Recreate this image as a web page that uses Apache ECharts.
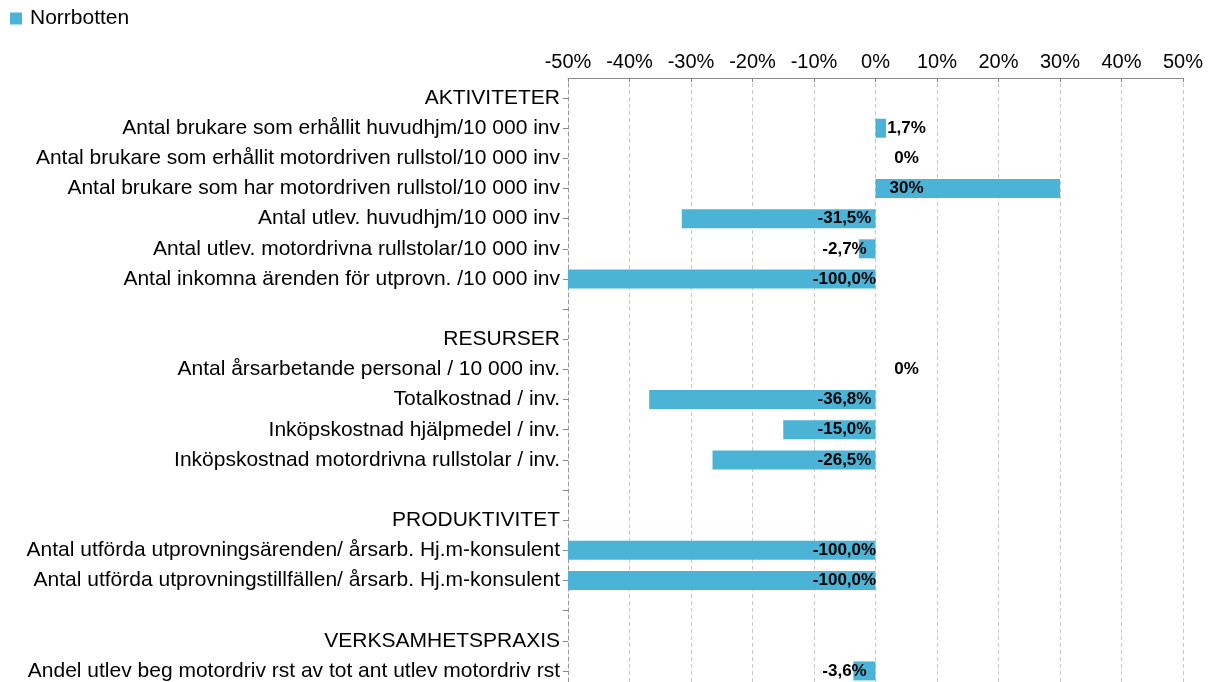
<!DOCTYPE html>
<html>
<head>
<meta charset="utf-8">
<script src="https://cdn.jsdelivr.net/npm/echarts@6/dist/echarts.min.js"></script>
<style>
  html, body { margin: 0; padding: 0; background: #fff; }
  #chart { width: 1210px; height: 682px; }
</style>
</head>
<body>
<div id="chart"></div>
<script>
const categories = [
  'AKTIVITETER',
  'Antal brukare som erhållit huvudhjm/10 000 inv',
  'Antal brukare som erhållit motordriven rullstol/10 000 inv',
  'Antal brukare som har motordriven rullstol/10 000 inv',
  'Antal utlev. huvudhjm/10 000 inv',
  'Antal utlev. motordrivna rullstolar/10 000 inv',
  'Antal inkomna ärenden för utprovn. /10 000 inv',
  ' ',
  'RESURSER',
  'Antal årsarbetande personal / 10 000 inv.',
  'Totalkostnad / inv.',
  'Inköpskostnad hjälpmedel / inv.',
  'Inköpskostnad motordrivna rullstolar / inv.',
  '  ',
  'PRODUKTIVITET',
  'Antal utförda utprovningsärenden/ årsarb. Hj.m-konsulent',
  'Antal utförda utprovningstillfällen/ årsarb. Hj.m-konsulent',
  '   ',
  'VERKSAMHETSPRAXIS',
  'Andel utlev beg motordriv rst av tot ant utlev motordriv rst'
]

const values = [
  null, 1.7, 0, 30, -31.5, -2.7, -100,
  null, null, 0, -36.8, -15.0, -26.5,
  null, null, -100, -100,
  null, null, -3.6
]

const valueLabels = [
  null, '1,7%', '0%', '30%', '-31,5%', '-2,7%', '-100,0%',
  null, null, '0%', '-36,8%', '-15,0%', '-26,5%',
  null, null, '-100,0%', '-100,0%',
  null, null, '-3,6%'
]

const xTicks = { min: -50, max: 50, interval: 10 }

const labelPoints = []
values.forEach((v, i) => {
  if (v !== null) labelPoints.push([v, i, valueLabels[i]])
})

const chart = echarts.init(document.getElementById('chart'))

const option = {
  backgroundColor: '#fff',
  animation: false,
  textStyle: { fontFamily: '"Liberation Sans", Arial, sans-serif' },
  legend: {
    data: ['Norrbotten'],
    left: 5,
    top: 3,
    icon: 'rect',
    itemWidth: 12,
    itemHeight: 12,
    itemGap: 8,
    textStyle: {
      color: '#000',
      fontSize: 21,
      padding: [0, 0, 0, 3]
    }
  },
  grid: {
    left: 568,
    right: 27,
    top: 83,
    height: 603,
    containLabel: false,
    outerBoundsMode: 'none'
  },
  xAxis: {
    type: 'value',
    position: 'top',
    offset: 5,
    min: xTicks.min,
    max: xTicks.max,
    interval: xTicks.interval,
    axisLine: {
      show: true,
      lineStyle: { color: '#888', width: 1 }
    },
    axisTick: {
      show: true,
      inside: true,
      length: 4,
      lineStyle: { color: '#888' }
    },
    axisLabel: {
      color: '#000',
      fontSize: 20,
      margin: 6,
      formatter: '{value}%'
    },
    splitLine: {
      lineStyle: { color: '#c8c8c8', type: [4, 3], width: 1 }
    }
  },
  yAxis: {
    type: 'category',
    inverse: true,
    data: categories,
    axisLine: {
      show: true,
      onZero: false,
      lineStyle: { color: '#999', type: [4, 3] }
    },
    axisTick: {
      show: true,
      alignWithLabel: true,
      length: 5,
      lineStyle: { color: '#888' }
    },
    axisLabel: {
      color: '#000',
      fontSize: 21,
      margin: 8,
      interval: 0
    }
  },
  series: [
    {
      name: 'Norrbotten',
      type: 'bar',
      data: values,
      barWidth: 19,
      clip: true,
      itemStyle: { color: '#4bb3d6' }
    },
    {
      name: 'labels',
      type: 'custom',
      data: labelPoints,
      encode: { x: 0, y: 1 },
      z: 5,
      renderItem: (params, api) => {
        const v = api.value(0)
        const p = api.coord([0, api.value(1)])
        return {
          type: 'text',
          x: p[0] + (v < 0 ? -31 : 31),
          y: p[1],
          style: {
            text: labelPoints[params.dataIndex][2],
            fill: '#000',
            font: 'bold 17px "Liberation Sans", Arial, sans-serif',
            align: 'center',
            verticalAlign: 'middle'
          }
        }
      }
    }
  ]
}

chart.setOption(option)
</script>
</body>
</html>
